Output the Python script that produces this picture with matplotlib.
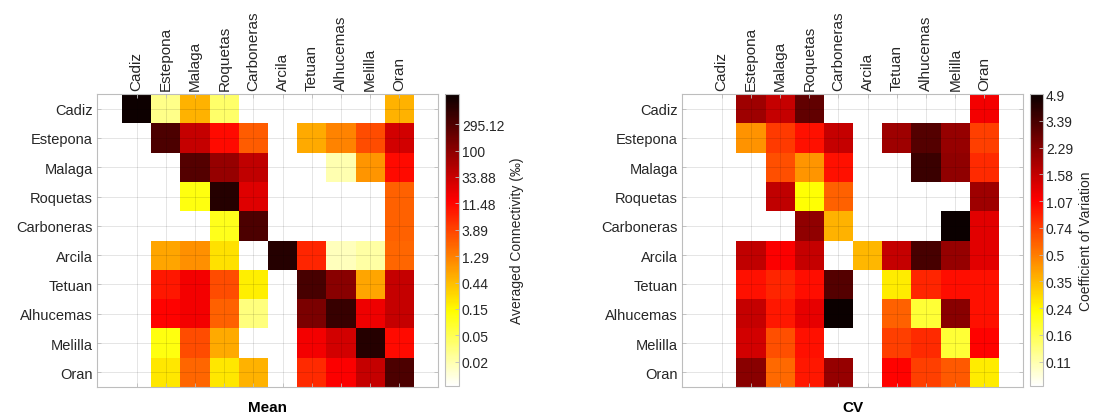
"""
Connectivity matrices between Alboran Sea sites: mean connectivity and CV.
"""

import numpy as np
import matplotlib
matplotlib.use("Agg")
import matplotlib.pyplot as plt
from matplotlib.colors import LogNorm

plt.rcParams['font.family'] = ['Liberation Sans', 'DejaVu Sans']

nan = np.nan

sites = ["Cadiz", "Estepona", "Malaga", "Roquetas", "Carboneras",
         "Arcila", "Tetuan", "Alhucemas", "Melilla", "Oran"]

# Averaged connectivity (per mil), rows = origin, columns = destination
mean_conn = [
    [950, 0.031, 0.59, 0.044, nan, nan, nan, nan, nan, 0.59],
    [nan, 307, 37, 11.3, 2.7, nan, 0.66, 1.35, 3.5, 29],
    [nan, nan, 273, 84, 41, nan, nan, 0.019, 0.95, 11.3],
    [nan, nan, 0.127, 624, 23, nan, nan, nan, nan, 2.4],
    [nan, nan, nan, 0.113, 307, nan, nan, nan, nan, 2.4],
    [nan, 0.75, 1.07, 0.26, nan, 624, 7.0, 0.017, 0.022, 2.2],
    [nan, 8.9, 16, 3.5, 0.20, nan, 346, 106, 0.75, 37],
    [nan, 12.7, 16, 2.4, 0.035, nan, 135, 437, 18, 37],
    [nan, 0.127, 3.5, 0.66, nan, nan, 16, 29, 624, 11.3],
    [nan, 0.23, 2.2, 0.23, 0.59, nan, 6.3, 14.3, 37, 307],
]

# Coefficient of variation
cv_conn = [
    [nan, 1.97, 1.54, 2.86, nan, nan, nan, nan, nan, 1.15],
    [nan, 0.44, 0.76, 0.975, 1.54, nan, 1.97, 3.1, 2.05, 0.73],
    [nan, nan, 0.67, 0.43, 0.975, nan, nan, 3.66, 2.14, 0.83],
    [nan, nan, 1.60, 0.22, 0.59, nan, nan, nan, nan, 1.97],
    [nan, nan, nan, 2.14, 0.36, nan, nan, nan, 4.9, 1.30],
    [nan, 1.60, 1.10, 1.54, nan, 0.35, 1.54, 3.37, 2.05, 1.30],
    [nan, 0.975, 0.86, 1.0, 3.1, nan, 0.25, 0.86, 1.0, 0.975],
    [nan, 1.54, 0.935, 1.25, 4.9, nan, 0.59, 0.18, 2.23, 0.975],
    [nan, 1.42, 0.67, 0.975, nan, nan, 0.73, 0.83, 0.18, 1.06],
    [nan, 2.23, 0.57, 0.935, 2.05, nan, 1.06, 0.73, 0.62, 0.25],
]

mean_ticklabels = ["295.12", "100", "33.88", "11.48", "3.89",
                   "1.29", "0.44", "0.15", "0.05", "0.02"]
cv_ticklabels = ["4.9", "3.39", "2.29", "1.58", "1.07", "0.74",
                 "0.5", "0.35", "0.24", "0.16", "0.11"]

TEXT_COLOR = '#262626'
EDGE_COLOR = '#bdbdbd'


def draw_matrix(fig, ax_rect, cb_rect, data, vmin, vmax, ticklabels, cb_label, title):
    """Draw one matrix panel with its log colour bar."""
    ax = fig.add_axes(ax_rect)
    cax = fig.add_axes(cb_rect)

    cmap = plt.get_cmap('hot_r').copy()
    cmap.set_bad('white')
    values = np.ma.masked_invalid(np.array(data, dtype=float))

    edges = np.arange(len(sites) + 1) + 0.5
    mesh = ax.pcolormesh(edges, edges, values, cmap=cmap,
                         norm=LogNorm(vmin=vmin, vmax=vmax))

    ticks = np.arange(1, len(sites) + 1)
    ax.set_xlim(-0.36, 11.32)
    ax.set_ylim(10.5, 0.5)
    ax.set_xticks(ticks)
    ax.set_yticks(ticks)
    ax.set_xticklabels(sites, rotation=90, fontsize=11)
    ax.set_yticklabels(sites, fontsize=10.5)
    ax.xaxis.tick_top()
    ax.tick_params(axis='both', direction='in', length=3, width=0.6,
                   colors=EDGE_COLOR, labelcolor=TEXT_COLOR,
                   top=True, bottom=True, left=True, right=True,
                   labeltop=True, labelbottom=False, pad=3)
    ax.grid(True, color='k', alpha=0.12, linewidth=0.6)
    ax.set_axisbelow(False)
    for spine in ax.spines.values():
        spine.set_color(EDGE_COLOR)
        spine.set_linewidth(0.8)

    ax.text(0.5, -0.045, title, transform=ax.transAxes, ha='center', va='top',
            fontsize=11, fontweight='bold', color='black')

    # colour bar with evenly spaced (log) ticks
    cbar = fig.colorbar(mesh, cax=cax)
    tick_vals = 10 ** np.linspace(np.log10(float(ticklabels[0])),
                                  np.log10(float(ticklabels[-1])), len(ticklabels))
    cbar.set_ticks(tick_vals)
    cbar.set_ticklabels(ticklabels)
    cbar.minorticks_off()
    cbar.ax.tick_params(direction='in', length=3, width=0.6, labelsize=10,
                        colors=EDGE_COLOR, labelcolor=TEXT_COLOR, pad=2)
    cbar.outline.set_edgecolor(EDGE_COLOR)
    cbar.outline.set_linewidth(0.8)
    cbar.set_label(cb_label, fontsize=10, color=TEXT_COLOR, labelpad=4)
    return ax


fig = plt.figure(figsize=(11.02, 4.14), dpi=100)

draw_matrix(fig, [0.0880, 0.0628, 0.3094, 0.7077], [0.4038, 0.0652, 0.0127, 0.7053],
            mean_conn, 0.0075, 1000, mean_ticklabels,
            'Averaged Connectivity (\u2030)', 'Mean')
draw_matrix(fig, [0.6189, 0.0628, 0.3094, 0.7077], [0.9347, 0.0652, 0.0118, 0.7053],
            cv_conn, 0.078, 4.9, cv_ticklabels,
            'Coefficient of Variation', 'CV')

fig.savefig('out.png', dpi=100)
